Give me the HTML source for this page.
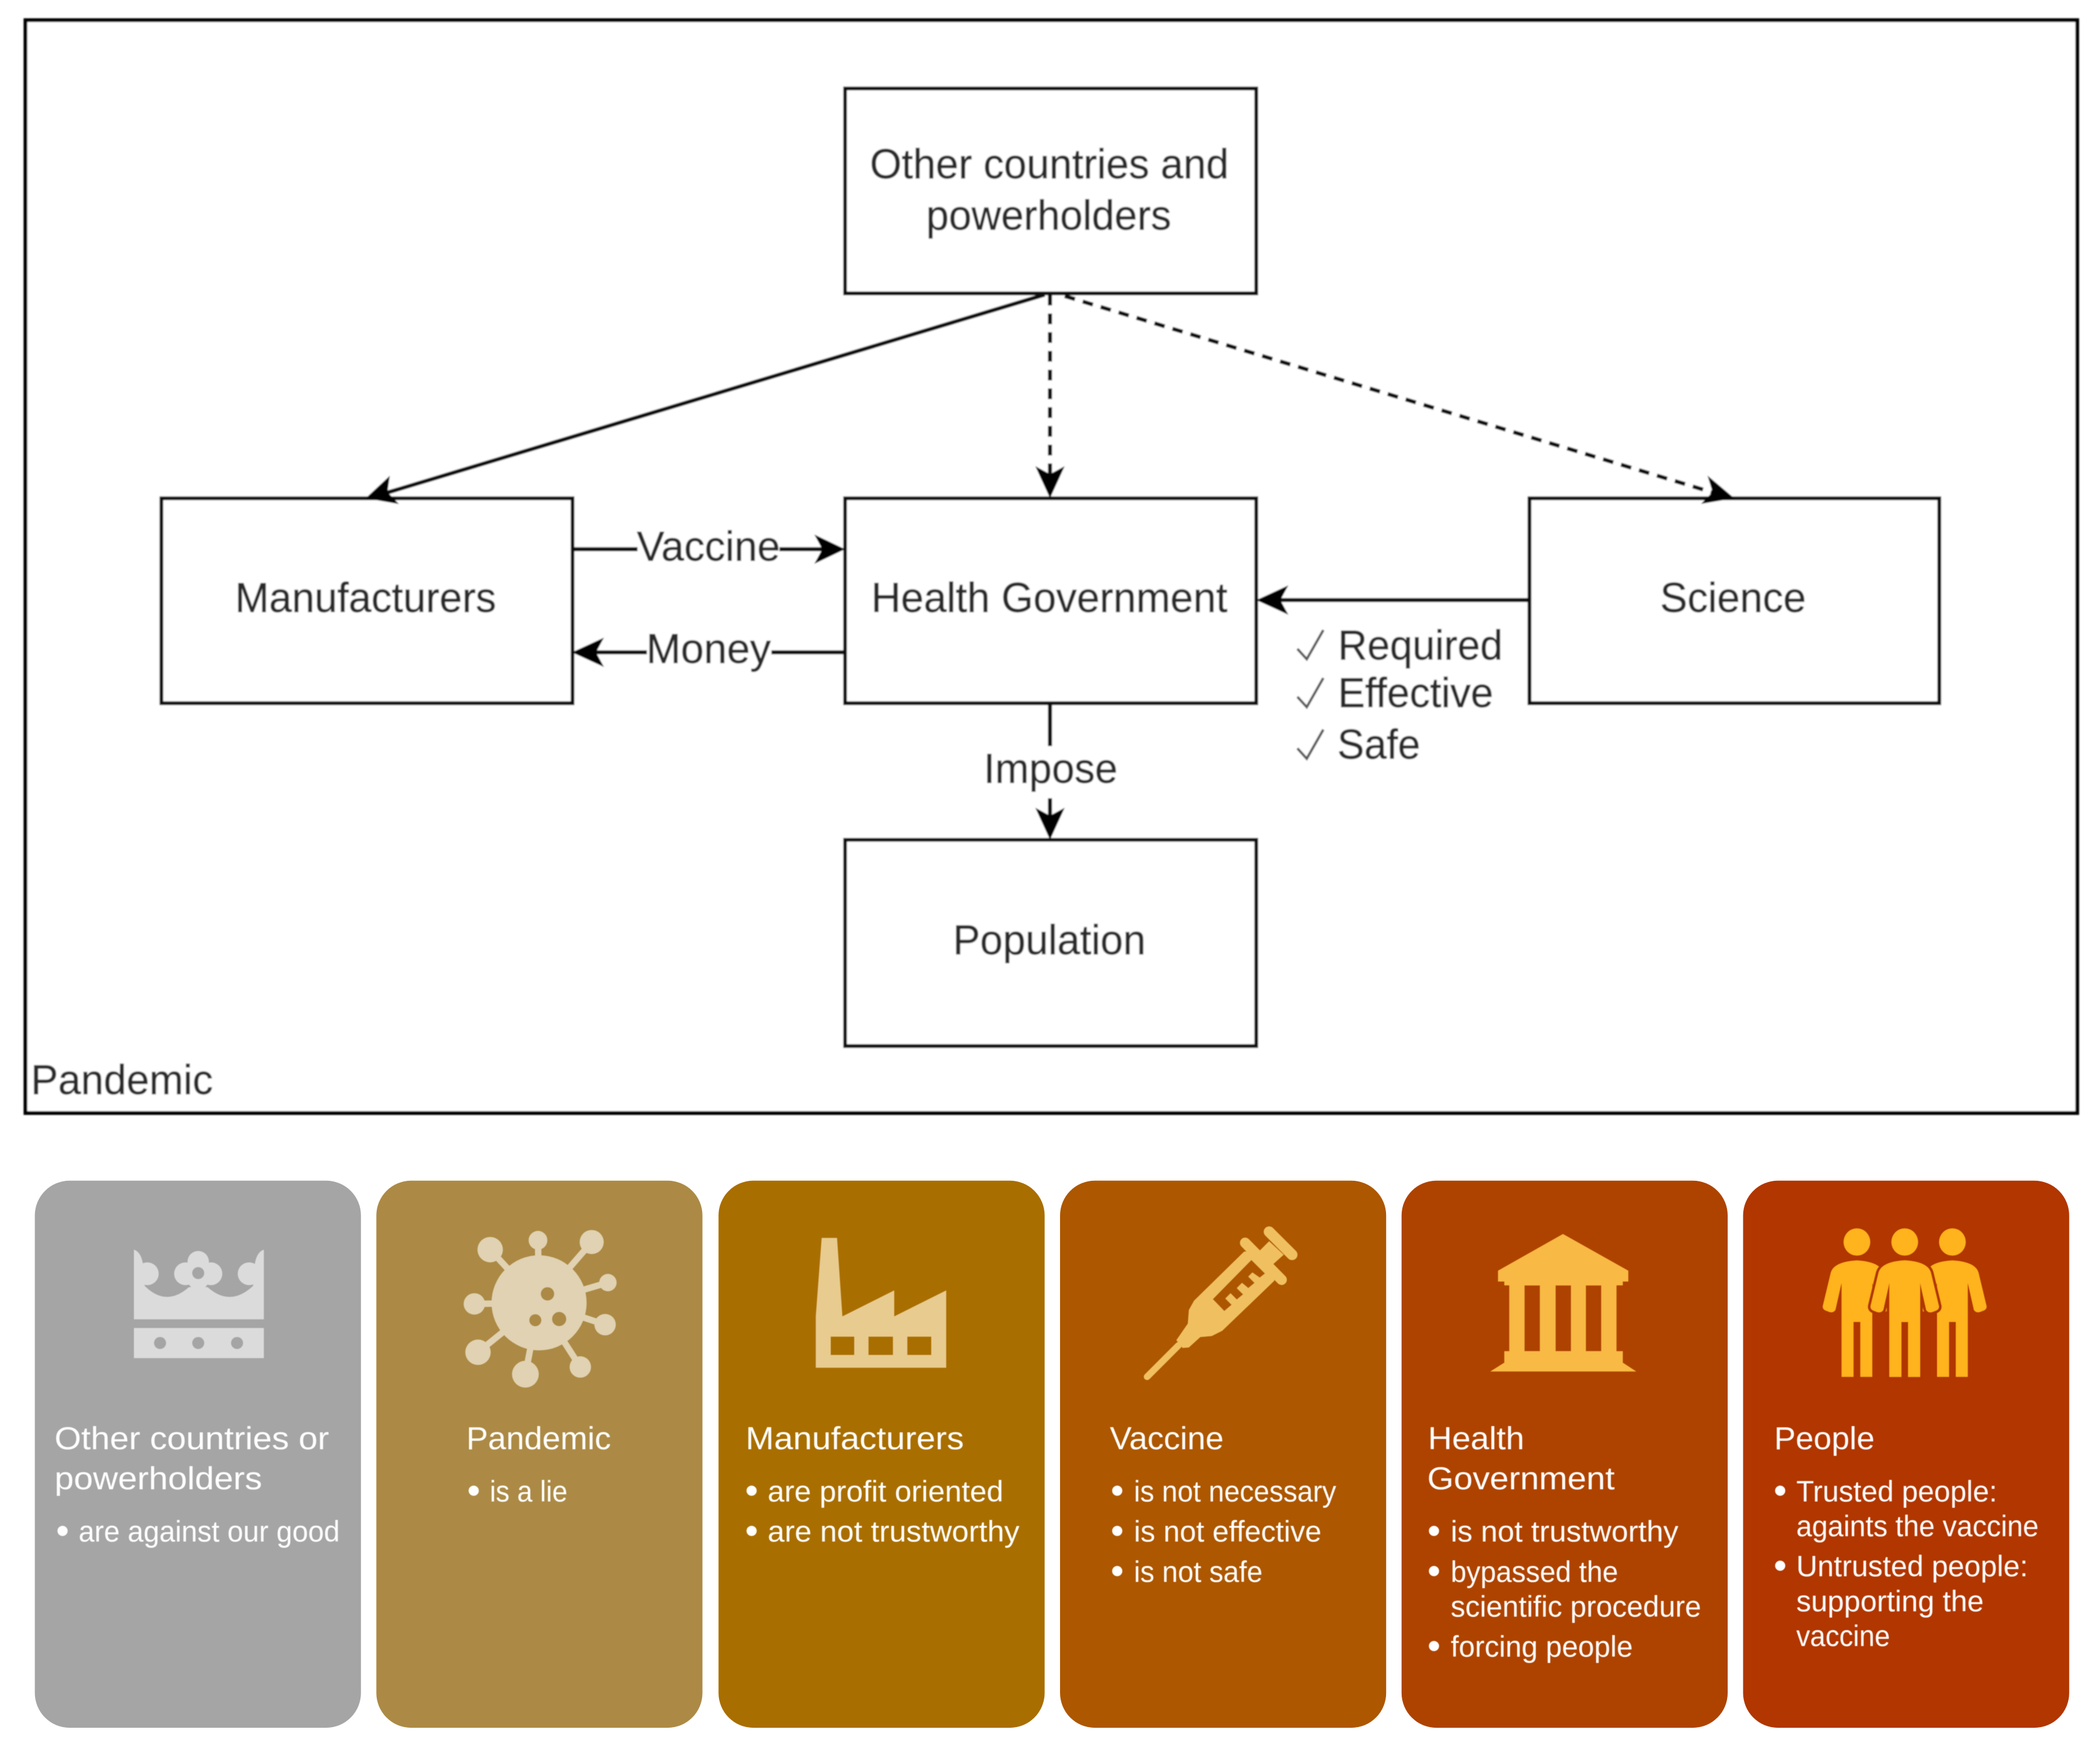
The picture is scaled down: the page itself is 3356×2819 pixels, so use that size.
<!DOCTYPE html>
<html><head><meta charset="utf-8"><title>Pandemic diagram</title>
<style>
html,body{margin:0;padding:0;background:#fff}
svg{display:block}
text{font-family:"Liberation Sans",sans-serif}
.d{font-size:31px;fill:#2b2b2b;stroke:#2b2b2b;stroke-width:.3}
.h{font-size:24px;fill:#fff}
.b{font-size:22px;fill:#fff}
.box{fill:#fff;stroke:#111;stroke-width:2.8}
</style></head><body>
<svg xmlns="http://www.w3.org/2000/svg" width="3356" height="2819" viewBox="0 0 1568 1317">
<defs><filter id="bl" x="-2%" y="-2%" width="104%" height="104%"><feGaussianBlur stdDeviation="0.55"/></filter>
<filter id="bs" x="-2%" y="-2%" width="104%" height="104%"><feGaussianBlur stdDeviation="0.3"/></filter>
<path id="person" d="M-11.5,1028V958L-16,978Q-18,981-22,979Q-26,978-25.500,975L-19.500,950Q-17,942 0,941Q17,942 19.500,950L25.500,975Q26,978 22,979Q18,981 16,978L11.5,958V1028H2.5V987H-2.5V1028Z"/>
</defs>
<rect width="1568" height="1317" fill="#fff"/>

<g filter="url(#bl)">
<rect x="19" y="15" width="1532" height="816" fill="#fff" stroke="#000" stroke-width="2.8"/>
<rect class="box" x="631" y="66" width="307" height="153"/>
<rect class="box" x="120.500" y="372" width="307" height="153"/>
<rect class="box" x="631" y="372" width="307" height="153"/>
<rect class="box" x="1142" y="372" width="306" height="153"/>
<rect class="box" x="631" y="627" width="307" height="154"/>

<g fill="none" stroke="#111" stroke-width="3">
<line x1="780" y1="220" x2="285" y2="369"/>
<line x1="784" y1="220" x2="784" y2="356" stroke-dasharray="8 6"/>
<line x1="795" y1="221" x2="1280" y2="368" stroke-dasharray="8 6"/>
<line x1="428" y1="410" x2="476" y2="410"/>
<line x1="582" y1="410" x2="615" y2="410"/>
<line x1="576" y1="487" x2="631" y2="487"/>
<line x1="444" y1="487" x2="483" y2="487"/>
<line x1="955" y1="448" x2="1142" y2="448"/>
<line x1="784" y1="525" x2="784" y2="557"/>
<line x1="784" y1="596" x2="784" y2="610"/>
</g>
<g fill="#000">
<polygon points="273,372 297.900,376.300 289.300,367.400 291.100,355.100"/>
<polygon points="784,372 773,348 784,354 795,348"/>
<polygon points="1295,372 1270.100,376.200 1278.700,367.300 1274.900,355"/>
<polygon points="631,410 608,399 614,410 608,421"/>
<polygon points="427,487 451,476 445,487 451,498"/>
<polygon points="938,448 962,437 956,448 962,459"/>
<polygon points="784,627 773,603 784,609 795,603"/>
</g>

<text class="d" x="649.500" y="133" textLength="268" lengthAdjust="spacingAndGlyphs">Other countries and</text>
<text class="d" x="691.500" y="171.500" textLength="183" lengthAdjust="spacingAndGlyphs">powerholders</text>
<text class="d" x="175.500" y="457" textLength="195" lengthAdjust="spacingAndGlyphs">Manufacturers</text>
<text class="d" x="650.500" y="457" textLength="266" lengthAdjust="spacingAndGlyphs">Health Government</text>
<text class="d" x="1239.500" y="457" textLength="109" lengthAdjust="spacingAndGlyphs">Science</text>
<text class="d" x="711.500" y="712.500" textLength="144" lengthAdjust="spacingAndGlyphs">Population</text>
<text class="d" x="475.500" y="418.500" textLength="107" lengthAdjust="spacingAndGlyphs">Vaccine</text>
<text class="d" x="482.500" y="495" textLength="93" lengthAdjust="spacingAndGlyphs">Money</text>
<text class="d" x="734.500" y="584.500" textLength="100" lengthAdjust="spacingAndGlyphs">Impose</text>
<text class="d" x="999" y="492.500" textLength="123" lengthAdjust="spacingAndGlyphs">Required</text>
<text class="d" x="999" y="528" textLength="116" lengthAdjust="spacingAndGlyphs">Effective</text>
<text class="d" x="998.500" y="566.500" textLength="62" lengthAdjust="spacingAndGlyphs">Safe</text>
<text class="d" x="23" y="817" textLength="136" lengthAdjust="spacingAndGlyphs">Pandemic</text>
<g fill="none" stroke="#555" stroke-width="1.9">
<polyline points="968.700,484.400 975.700,492.100 988.100,470.400"/>
<polyline points="968.700,520.200 975.700,527.900 988.100,506.200"/>
<polyline points="968.700,558.700 975.700,566.400 988.100,544.700"/>
</g>
</g>

<rect x="26" y="881.500" width="243.500" height="408.500" rx="26" fill="#A5A5A5"/>
<rect x="281" y="881.500" width="243.500" height="408.500" rx="26" fill="#AC8A45"/>
<rect x="536.500" y="881.500" width="243.500" height="408.500" rx="26" fill="#A96E00"/>
<rect x="791.500" y="881.500" width="243.500" height="408.500" rx="26" fill="#AD5700"/>
<rect x="1046.500" y="881.500" width="243.500" height="408.500" rx="26" fill="#AE4300"/>
<rect x="1301.500" y="881.500" width="243.500" height="408.500" rx="26" fill="#B13600"/>

<g filter="url(#bs)">
<!-- crown -->
<g fill="#DBDBDB">
<path d="M100,985V933Q106,935 107,946L108,960Q124,976 141,961H155Q172,976 189,960L190,946Q191,935 197,933V985Z"/>
<circle cx="110" cy="951" r="8.500"/><circle cx="186" cy="951" r="8.500"/>
<circle cx="138.500" cy="951" r="8.500"/><circle cx="157.500" cy="951" r="8.500"/>
<circle cx="148" cy="942" r="8"/><circle cx="148" cy="955" r="8"/>
<rect x="100" y="991.500" width="97" height="22.500"/>
</g>
<g fill="#A5A5A5">
<circle cx="148" cy="950.500" r="4.500"/>
<circle cx="119.500" cy="1002.700" r="4.500"/><circle cx="148" cy="1002.700" r="4.500"/><circle cx="177" cy="1002.700" r="4.500"/>
</g>

<!-- virus -->
<g fill="#E0D2B2">
<circle cx="402.500" cy="972.700" r="35.500"/>
<circle cx="366" cy="933" r="9.500"/><circle cx="401.700" cy="926" r="7"/><circle cx="441.800" cy="927.300" r="9"/>
<circle cx="453.900" cy="957.600" r="6.500"/><circle cx="451.800" cy="989" r="8"/><circle cx="433.300" cy="1020.600" r="8"/>
<circle cx="392.300" cy="1026" r="10"/><circle cx="356.900" cy="1009.600" r="9.500"/><circle cx="354.200" cy="973.500" r="8"/>
</g>
<g stroke="#E0D2B2" stroke-width="4.800">
<line x1="402.500" y1="972.700" x2="366" y2="933"/><line x1="402.500" y1="972.700" x2="401.700" y2="926"/>
<line x1="402.500" y1="972.700" x2="441.800" y2="927.300"/><line x1="402.500" y1="972.700" x2="453.900" y2="957.600"/>
<line x1="402.500" y1="972.700" x2="451.800" y2="989"/><line x1="402.500" y1="972.700" x2="433.300" y2="1020.600"/>
<line x1="402.500" y1="972.700" x2="392.300" y2="1026"/><line x1="402.500" y1="972.700" x2="356.900" y2="1009.600"/>
<line x1="402.500" y1="972.700" x2="354.200" y2="973.500"/>
</g>
<g fill="#AC8A45">
<circle cx="408.800" cy="966" r="5"/><circle cx="399.700" cy="985.700" r="4.500"/><circle cx="417.500" cy="984.800" r="5.300"/>
</g>

<!-- factory -->
<path fill="#E8CB8F" fill-rule="evenodd" d="M609.100,1021.200V982.800L613.500,924.200H625L629,982.800L667.700,963.400V982.800L706.500,963.400V1021.200ZM620.300,998V1011.600H637.800V998ZM648.500,998V1011.600H666.700V998ZM677.500,998V1011.600H695.300V998Z"/>

<!-- syringe -->
<g transform="translate(850.300,911.100) scale(.1557)">
<g fill="none" stroke="#F0C060" stroke-linecap="round">
<line x1="40" y1="750" x2="190" y2="600" stroke-width="32"/>
<line x1="510" y1="108" x2="685" y2="285" stroke-width="50"/>
<line x1="625" y1="55" x2="735" y2="165" stroke-width="52"/>
</g>
<polygon fill="#F0C060" points="240,430 265,385 505,150 580,145 625,100 695,165 645,210 650,290 400,530 350,555 295,560 240,610 210,612 180,575 235,495"/>
<polygon fill="#AD5700" points="355,378 540,190 605,255 580,275 545,250 525,270 555,300 525,325 495,300 470,325 500,355 470,380 440,350 415,375 445,405 410,435"/>
</g>

<!-- bank -->
<path fill="#F9B944" d="M1167,921.300L1118.500,948.700V956.800H1123.200V959.700H1126.900V1008.800H1123.200V1017.400L1112.700,1024H1221.800L1211.700,1017.400V1008.800H1207V959.700H1211.700V956.800H1215.800V948.700Z"/>
<g fill="#AE4300">
<rect x="1138.300" y="959.700" width="11.500" height="49.100"/>
<rect x="1161.500" y="959.700" width="11.500" height="49.100"/>
<rect x="1184.100" y="959.700" width="11.500" height="49.100"/>
</g>

<!-- people -->
<g fill="#FFB31E">
<use href="#person" x="1386.500"/>
<use href="#person" x="1457.800"/>
<use href="#person" x="1422.200" stroke="#B13600" stroke-width="4" paint-order="stroke"/>
<ellipse cx="1386.500" cy="927.300" rx="10" ry="10.200"/>
<ellipse cx="1422.200" cy="927.300" rx="10" ry="10.200"/>
<ellipse cx="1457.800" cy="927.300" rx="10" ry="10.200"/>
</g>

<!-- card text -->
<g transform="translate(-0.3,-1)">
<text class="h" x="41" y="1083" textLength="205" lengthAdjust="spacingAndGlyphs">Other countries or</text>
<text class="h" x="41" y="1113" textLength="155" lengthAdjust="spacingAndGlyphs">powerholders</text>
<circle cx="47" cy="1144" r="3.800" fill="#fff"/>
<text class="b" x="59" y="1152" textLength="195" lengthAdjust="spacingAndGlyphs">are against our good</text>

<text class="h" x="348.500" y="1083" textLength="108" lengthAdjust="spacingAndGlyphs">Pandemic</text>
<circle cx="354" cy="1114" r="3.800" fill="#fff"/>
<text class="b" x="366" y="1122" textLength="58" lengthAdjust="spacingAndGlyphs">is a lie</text>

<text class="h" x="557" y="1083" textLength="163" lengthAdjust="spacingAndGlyphs">Manufacturers</text>
<circle cx="561.500" cy="1114" r="3.800" fill="#fff"/>
<text class="b" x="573.500" y="1122" textLength="176" lengthAdjust="spacingAndGlyphs">are profit oriented</text>
<circle cx="561.500" cy="1144" r="3.800" fill="#fff"/>
<text class="b" x="573.500" y="1152" textLength="188" lengthAdjust="spacingAndGlyphs">are not trustworthy</text>

<text class="h" x="829" y="1083" textLength="85" lengthAdjust="spacingAndGlyphs">Vaccine</text>
<circle cx="834.500" cy="1114" r="3.800" fill="#fff"/>
<text class="b" x="847" y="1122" textLength="151" lengthAdjust="spacingAndGlyphs">is not necessary</text>
<circle cx="834.500" cy="1144" r="3.800" fill="#fff"/>
<text class="b" x="847" y="1152" textLength="140" lengthAdjust="spacingAndGlyphs">is not effective</text>
<circle cx="834.500" cy="1174" r="3.800" fill="#fff"/>
<text class="b" x="847" y="1182" textLength="96" lengthAdjust="spacingAndGlyphs">is not safe</text>

<text class="h" x="1066.500" y="1083" textLength="72" lengthAdjust="spacingAndGlyphs">Health</text>
<text class="h" x="1066" y="1113" textLength="140" lengthAdjust="spacingAndGlyphs">Government</text>
<circle cx="1071" cy="1144" r="3.800" fill="#fff"/>
<text class="b" x="1083.500" y="1152" textLength="170" lengthAdjust="spacingAndGlyphs">is not trustworthy</text>
<circle cx="1071" cy="1174" r="3.800" fill="#fff"/>
<text class="b" x="1083.500" y="1182" textLength="125" lengthAdjust="spacingAndGlyphs">bypassed the</text>
<text class="b" x="1083.500" y="1208" textLength="187" lengthAdjust="spacingAndGlyphs">scientific procedure</text>
<circle cx="1071" cy="1230" r="3.800" fill="#fff"/>
<text class="b" x="1083.500" y="1238" textLength="136" lengthAdjust="spacingAndGlyphs">forcing people</text>

<text class="h" x="1325" y="1083" textLength="75" lengthAdjust="spacingAndGlyphs">People</text>
<circle cx="1329.500" cy="1114" r="3.800" fill="#fff"/>
<text class="b" x="1341.500" y="1122" textLength="150" lengthAdjust="spacingAndGlyphs">Trusted people:</text>
<text class="b" x="1341.500" y="1148" textLength="181" lengthAdjust="spacingAndGlyphs">againts the vaccine</text>
<circle cx="1329.500" cy="1170" r="3.800" fill="#fff"/>
<text class="b" x="1341.500" y="1178" textLength="173" lengthAdjust="spacingAndGlyphs">Untrusted people:</text>
<text class="b" x="1341.500" y="1204" textLength="140" lengthAdjust="spacingAndGlyphs">supporting the</text>
<text class="b" x="1341.500" y="1230" textLength="70" lengthAdjust="spacingAndGlyphs">vaccine</text>
</g>
</g>
</svg>
</body></html>
